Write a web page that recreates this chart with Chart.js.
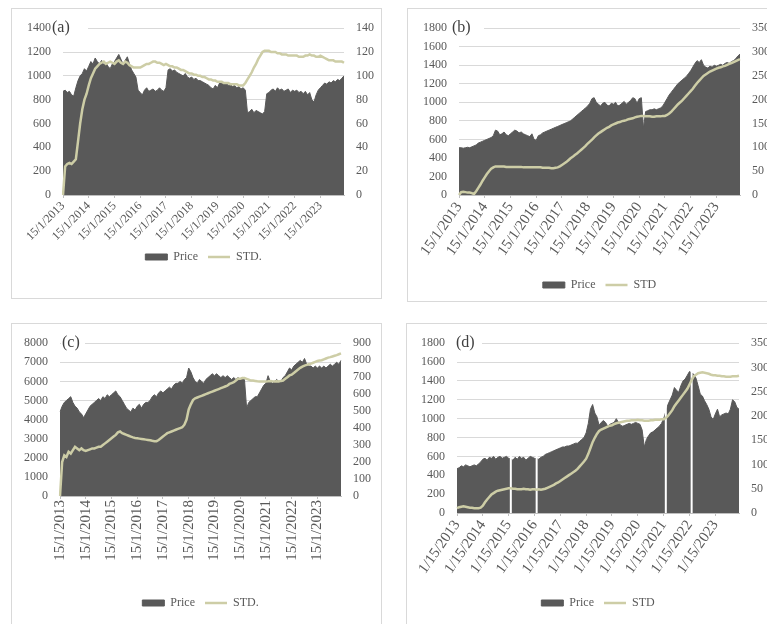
<!DOCTYPE html>
<html>
<head>
<meta charset="utf-8">
<script src="https://cdn.jsdelivr.net/npm/chart.js@4.4.0/dist/chart.umd.min.js"></script>
<style>
  html, body { margin: 0; padding: 0; background: #fff; width: 767px; height: 624px; overflow: hidden; }
  .box { position: absolute; border: 1px solid #d9d9d9; box-sizing: border-box; }
  canvas { position: absolute; }
</style>
</head>
<body>
<div class="box" style="left:11px;top:8px;width:371px;height:291px"></div>
<div class="box" style="left:407px;top:8px;width:400px;height:294px"></div>
<div class="box" style="left:11px;top:323px;width:371px;height:400px"></div>
<div class="box" style="left:406px;top:323px;width:400px;height:400px"></div>

<canvas id="ca" width="376" height="320" style="left:12px;top:9px"></canvas>
<canvas id="cb" width="376" height="320" style="left:408px;top:9px"></canvas>
<canvas id="cc" width="376" height="320" style="left:12px;top:324px"></canvas>
<canvas id="cd" width="376" height="320" style="left:407px;top:324px"></canvas>

<script>
// monthly points, Jan 2013 .. Dec 2023
const years = [2013, 2014, 2015, 2016, 2017, 2018, 2019, 2020, 2021, 2022, 2023];
const months = [1, 2, 3, 4, 5, 6, 7, 8, 9, 10, 11, 12];

const priceA = [
  870, 880, 860, 870, 840, 830, 900, 960, 1000, 1020, 1060, 1040,
  1080, 1120, 1100, 1150, 1120, 1100, 1130, 1090, 1110, 1080, 1060, 1100,
  1120, 1150, 1180, 1140, 1100, 1130, 1160, 1100, 1050, 1020, 990, 880,
  860, 840, 880, 900, 870, 880, 890, 870, 880, 900, 880, 870,
  900, 1050, 1060, 1040, 1050, 1030, 1020, 1010, 1000, 1020, 990, 980,
  990, 970, 980, 960, 960, 950, 940, 930, 920, 900, 890, 920,
  900, 940, 950, 930, 940, 920, 930, 910, 920, 900, 910, 890,
  900, 880, 690, 700, 720, 690, 710, 700, 690, 680, 700, 850,
  860, 880, 890, 870, 900, 880, 890, 870, 880, 890, 860, 880,
  870, 880, 860, 870, 850, 870, 840, 860, 800, 780, 840, 880,
  900, 920, 940, 930, 950, 940, 960, 950, 970, 960, 980, 1000
];
const stdA = [
  0, 24, 26, 27, 26, 28, 30, 45, 60, 72, 80, 85,
  92, 98, 102, 106, 108, 110, 111, 112, 110, 111, 112, 111,
  110, 112, 113, 111, 110, 112, 111, 109, 108, 107, 107, 107,
  107, 108, 109, 110, 110, 111, 112, 112, 111, 111, 110, 109,
  110, 109, 108, 108, 107, 107, 106, 105, 105, 104, 103, 102,
  102, 101, 101, 100, 100, 99, 99, 98, 97, 97, 96, 96,
  95, 95, 95, 94, 94, 94, 93, 93, 93, 93, 92, 92,
  92, 94, 97, 100, 103, 107, 110, 114, 117, 120, 121, 121,
  121, 120, 120, 120, 119, 119, 118, 118, 118, 117, 117, 117,
  117, 117, 116, 116, 116, 117, 117, 118, 117, 117, 116, 116,
  117, 116, 115, 114, 113, 113, 113, 112, 112, 112, 112, 111
];

const priceB = [
  510, 510, 505, 510, 515, 510, 520, 530, 540, 560, 570, 580,
  590, 600, 610, 620, 640, 700, 690, 650, 660, 680, 650, 640,
  660, 680, 700, 690, 670, 680, 660, 650, 640, 630, 660, 600,
  590, 640, 650, 670, 680, 690, 700, 710, 720, 730, 740, 750,
  760, 770, 780, 790, 800, 820, 840, 860, 880, 900, 920, 940,
  960, 990, 1040, 1050, 1000, 980, 960, 990, 1000, 970, 960, 990,
  980, 1000, 960, 970, 990, 1010, 980, 1000, 1020, 1050, 1040, 990,
  1040, 1050, 720, 900, 910, 920, 920, 930, 920, 930, 940, 960,
  1000, 1040, 1080, 1110, 1140, 1170, 1200, 1220, 1240, 1260, 1280, 1310,
  1340, 1380, 1420, 1450, 1430, 1460, 1400, 1380, 1370, 1390, 1380, 1400,
  1390, 1400, 1410, 1400, 1420, 1430, 1420, 1440, 1450, 1470, 1500, 1520
];
const stdB = [
  0, 6, 7, 6, 5, 5, 4, 2, 8, 15, 22, 30,
  37, 44, 50, 55, 58, 60, 60, 60, 60, 60, 59, 59,
  59, 59, 59, 59, 59, 59, 58, 58, 58, 58, 58, 58,
  58, 58, 58, 57, 57, 57, 57, 56, 56, 57, 58, 60,
  63, 66, 69, 73, 77, 80, 84, 87, 91, 95, 99, 103,
  108, 112, 116, 121, 125, 129, 132, 135, 138, 141, 143, 146,
  148, 150, 152, 153, 155, 156, 157, 159, 160, 161, 163, 164,
  165, 166, 166, 165, 165, 165, 164, 164, 165, 165, 165, 166,
  166, 168, 171, 175, 180, 185, 190, 194, 198, 203, 208, 213,
  218, 223, 229, 235, 240, 245, 250, 253, 256, 259, 261, 263,
  265, 267, 268, 270, 271, 273, 275, 277, 279, 281, 283, 285
];

const priceC = [
  4400, 4700, 4900, 5000, 5100, 5200, 4900, 4700, 4600, 4400, 4300, 4100,
  4300, 4500, 4700, 4800, 4900, 5000, 5100, 5000, 5200, 5100, 5300, 5200,
  5300, 5400, 5500, 5300, 5200, 5000, 4800, 4600, 4500, 4400, 4600, 4500,
  4700, 4800, 4600, 4800, 4900, 4900, 5000, 5200, 5300, 5200, 5400, 5500,
  5400, 5500, 5600, 5700, 5600, 5800, 5900, 5900, 6000, 5900, 6100, 6200,
  6700, 6500, 6200, 6000, 5900, 6100, 6000, 5900, 6100, 6200, 6300, 6400,
  6300, 6400, 6300, 6200, 6300, 6200, 6300, 6200, 6100, 6200, 6100, 6200,
  6100, 6200, 6100, 4600, 4900, 5000, 5100, 5200, 5200, 5400, 5600, 5800,
  5900, 6300, 6000, 5900, 6000, 6100, 6000, 6000, 6200, 6300, 6500, 6700,
  6600, 6800, 6900, 7000, 7100, 7000, 7200, 6900, 6800, 6800, 6700, 6800,
  6700, 6800, 6700, 6800, 6700, 6800, 6900, 6800, 6900, 7000, 6900, 7100
];
const stdC = [
  0, 200, 240, 230, 260, 250, 270, 290, 280, 270, 280, 270,
  265, 270, 275, 280, 280, 285, 290, 290, 300, 310, 320, 330,
  340, 350, 360, 375, 380, 370, 365, 360, 355, 350, 345, 342,
  340, 338, 336, 334, 332, 330, 328, 325, 323, 323, 330, 340,
  350, 360, 370, 375, 380, 385, 390, 395, 400, 405, 420, 450,
  510, 540, 565, 575, 580, 585, 590, 595, 600, 605, 610, 615,
  620, 625, 630, 635, 640, 645, 650, 660, 665, 670, 680, 690,
  690, 695, 695, 690, 685, 680, 680, 678, 676, 675, 675, 675,
  675, 676, 678, 676, 675, 676, 675, 678, 680, 690, 700, 710,
  715, 725, 735, 745, 755, 762, 768, 772, 776, 780, 785, 790,
  795, 798, 800, 805, 810, 815, 818, 822, 826, 830, 835, 840
];

// null = missing month (thin white gaps in panel d)
const priceD = [
  470, 480, 500, 490, 510, 500, 490, 500, 510, 500, 520, 540,
  570, 580, 560, 590, 580, 600, 570, 590, 600, 580, 590, 600,
  580, null, 560, 590, 570, 600, 580, 590, 560, 580, 600, 590,
  580, null, 570, 590, 600, 620, 630, 640, 650, 660, 670, 680,
  690, 700, 700, 710, 710, 720, 730, 740, 740, 760, 780, 800,
  850, 950, 1100, 1150, 1060, 1020, 930, 960, 980, 960, 920, 940,
  950, 960, 1000, 960, 930, 920, 930, 940, 950, 940, 950, 960,
  950, 940, 880, 700, 780, 820, 850, 860, 880, 900, 920, 950,
  1000, null, 1150, 1200, 1250, 1330, 1300, 1280, 1350, 1400, 1420, 1460,
  1500, null, 1470, 1430, 1350, 1260, 1240, 1190, 1150, 1100, 1020, 990,
  1050, 1100, 1020, 1040, 1050, 1060, 1050, 1100, 1200, 1180, 1120, 1100
];
const stdD = [
  10, 12, 13, 14, 13, 12, 11, 11, 10, 10, 10, 11,
  15, 22, 28, 33, 38, 41, 44, 46, 47, 48, 49, 50,
  51, 51, 50, 50, 49, 49, 49, 50, 49, 49, 48, 49,
  49, 48, 49, 48, 49, 50, 52, 54, 56, 58, 61, 63,
  66, 69, 72, 75, 78, 81, 84, 87, 91, 96, 101, 106,
  112, 122, 134, 146, 155, 163, 169, 172, 174, 176, 178, 180,
  181, 183, 185, 186, 187, 188, 189, 190, 190, 191, 191, 191,
  192, 191, 191, 190, 190, 190, 191, 191, 192, 192, 192, 193,
  193, 196, 200, 206, 212, 220, 226, 232, 238, 244, 250, 256,
  265, 274, 282, 285, 288, 289, 290, 289, 288, 287, 285, 284,
  284, 283, 283, 282, 282, 281, 281, 281, 282, 282, 282, 283
];

// category labels: day/month/year for a-c, month/day/year for d
const labelsDMY = [];
const labelsMDY = [];
years.forEach(y => months.forEach(m => {
  labelsDMY.push('15/' + m + '/' + y);
  labelsMDY.push(m + '/15/' + y);
}));

const PRICE_COLOR = '#595959';
const STD_COLOR = '#cdcda6';
const TEXT_COLOR = '#595959';
const SERIF = 'Liberation Serif';

// "(a)" style tag sitting on the top gridline
const panelTag = {
  id: 'panelTag',
  afterDraw(chart, args, opts) {
    const { ctx, chartArea } = chart;
    ctx.save();
    ctx.fillStyle = '#fff';
    ctx.fillRect(chartArea.left + opts.dx - 1, chartArea.top - 7, 26 - opts.dx, 14);
    ctx.font = '16px "' + SERIF + '"';
    ctx.fillStyle = '#404040';
    ctx.textBaseline = 'middle';
    ctx.fillText(opts.text, chartArea.left + opts.dx, chartArea.top);
    ctx.restore();
  }
};

// missing price months show as a thin white line through the area
const gapLines = {
  id: 'gapLines',
  afterDatasetDraw(chart, args) {
    const ds = chart.data.datasets[args.index];
    if (ds.label !== 'Price') return;
    const { ctx, chartArea, scales } = chart;
    ctx.save();
    ctx.strokeStyle = '#fff';
    ctx.lineWidth = 2;
    ds.data.forEach((v, i) => {
      if (v !== null) return;
      const x = scales.x.getPixelForValue(i);
      const top = Math.max(ds.data[i - 1] || 0, ds.data[i + 1] || 0);
      ctx.beginPath();
      ctx.moveTo(x, scales.y.getPixelForValue(top) - 4);
      ctx.lineTo(x, chartArea.bottom);
      ctx.stroke();
    });
    ctx.restore();
  }
};

function makeChart(id, p) {
  const tickFont = { family: SERIF, size: 12 };
  return new Chart(document.getElementById(id), {
    type: 'line',
    data: {
      labels: p.labels,
      datasets: [
        {
          label: 'Price',
          data: p.price,
          yAxisID: 'y',
          backgroundColor: PRICE_COLOR,
          borderColor: PRICE_COLOR,
          borderWidth: 1,
          fill: 'origin',
          spanGaps: true,
          pointStyle: 'rect',
          order: 1
        },
        {
          label: p.stdLabel,
          data: p.std,
          yAxisID: 'y1',
          borderColor: STD_COLOR,
          backgroundColor: STD_COLOR,
          borderWidth: 2.5,
          fill: false,
          pointStyle: 'line',
          order: 0
        }
      ]
    },
    options: {
      responsive: false,
      animation: false,
      events: [],
      layout: { padding: { top: p.top, bottom: p.bottom, left: 0, right: 0 } },
      elements: { point: { radius: 0 }, line: { tension: 0 } },
      scales: {
        x: {
          ticks: {
            autoSkip: false,
            minRotation: p.rot,
            maxRotation: p.rot,
            padding: 1,
            color: TEXT_COLOR,
            font: { family: SERIF, size: p.xFont }
          },
          grid: { drawOnChartArea: false, tickLength: 3, color: '#bfbfbf' },
          border: { display: true, color: '#bfbfbf' },
          afterBuildTicks: s => { s.ticks = s.ticks.filter(t => t.value % 12 === 0); },
          afterFit: s => { s.height = p.xh; }
        },
        y: {
          position: 'left',
          min: 0,
          max: p.leftMax,
          ticks: { stepSize: p.leftStep, autoSkip: false, padding: 12, color: TEXT_COLOR, font: tickFont, callback: v => String(v) },
          grid: { color: '#d9d9d9', drawTicks: false },
          border: { display: false },
          afterFit: s => { s.width = p.left; }
        },
        y1: {
          position: 'right',
          min: 0,
          max: p.rightMax,
          ticks: { stepSize: p.rightStep, autoSkip: false, padding: 12, color: TEXT_COLOR, font: tickFont, callback: v => String(v) },
          grid: { drawOnChartArea: false, drawTicks: false },
          border: { display: false },
          afterFit: s => { s.width = p.right; }
        }
      },
      plugins: {
        legend: {
          position: 'bottom',
          fullSize: false,
          labels: {
            usePointStyle: true,
            pointStyleWidth: 22,
            boxHeight: 6,
            padding: 10,
            color: TEXT_COLOR,
            font: tickFont,
            sort: (a, b) => a.datasetIndex - b.datasetIndex
          }
        },
        tooltip: { enabled: false },
        panelTag: { text: p.tag, dx: p.dx }
      }
    },
    plugins: [panelTag, gapLines]
  });
}

makeChart('ca', {
  labels: labelsDMY, price: priceA, std: stdA, stdLabel: 'STD.', tag: '(a)', dx: -11,
  leftMax: 1400, leftStep: 200, rightMax: 140, rightStep: 20,
  left: 51, right: 44, top: 16, xh: 46, bottom: 56, rot: 45, xFont: 12
});
makeChart('cb', {
  labels: labelsDMY, price: priceB, std: stdB, stdLabel: 'STD', tag: '(b)', dx: -7,
  leftMax: 1800, leftStep: 200, rightMax: 350, rightStep: 50,
  left: 51, right: 44, top: 18, xh: 74, bottom: 28, rot: 55, xFont: 15
});
makeChart('cc', {
  labels: labelsDMY, price: priceC, std: stdC, stdLabel: 'STD.', tag: '(c)', dx: 2,
  leftMax: 8000, leftStep: 1000, rightMax: 900, rightStep: 100,
  left: 48, right: 47, top: 16, xh: 91, bottom: 25, rot: 90, xFont: 15
});
makeChart('cd', {
  labels: labelsMDY, price: priceD, std: stdD, stdLabel: 'STD', tag: '(d)', dx: -1,
  leftMax: 1800, leftStep: 200, rightMax: 350, rightStep: 50,
  left: 50, right: 44, top: 18, xh: 74, bottom: 25, rot: 55, xFont: 15
});
</script>
</body>
</html>
